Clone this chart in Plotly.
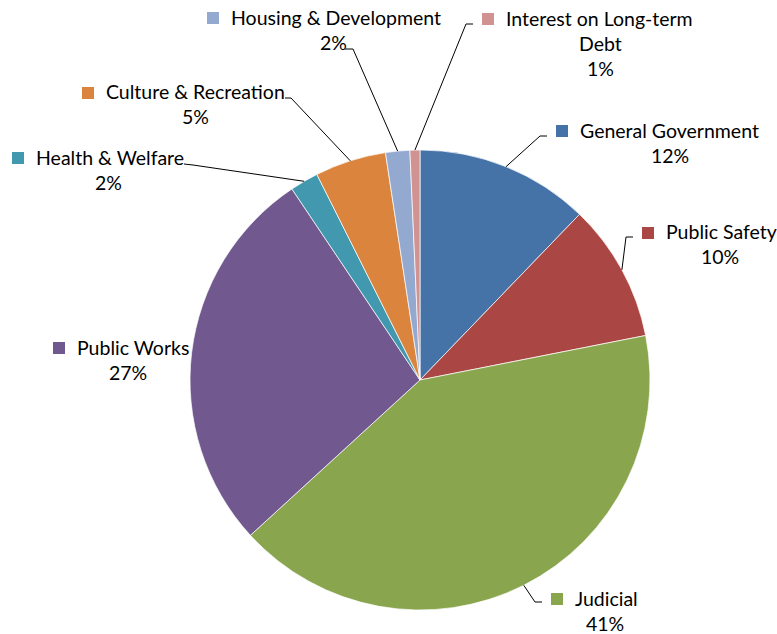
import math
import plotly.graph_objects as go

# Expenditure share by function (percent of total)
categories = [
    "General Government", "Public Safety", "Judicial", "Public Works",
    "Health & Welfare", "Culture & Recreation", "Housing & Development",
    "Interest on Long-term Debt",
]
shares = [12.2, 9.7, 41.3, 27.4, 2.0, 5.0, 1.7, 0.7]
colors = ["#4572A7", "#AA4643", "#89A54E", "#71588F",
          "#4198AF", "#DB843D", "#93A9CF", "#D19392"]

W, H = 777, 634
CX, CY, R = 420, 380, 230          # pie centre / radius in pixels
FONT = "Lato"
FS = 19.5
LINE_H = 25

# label placement: marker left x, first-line centre y, x of centred lines
label_pos = [
    (556, 130, 670), (642, 232, 720), (551, 598, 605), (53, 347, 128),
    (12, 157, 108), (82, 92, 195), (207, 17, 333), (482, 18, 600),
]
# leader line: (label end point, elbow point); None = no leader
leaders = [
    ((547, 136), (540, 136)), ((633, 237), (626, 237)),
    ((542, 602), (535, 602)), None,
    ((184, 164), (193, 165)), ((285, 98), (291, 98)),
    ((345, 49), (353, 49)), ((473, 24), (466, 24)),
]


def px(x):
    return x / W


def py(y):
    return 1 - y / H


def wrap(name, width=22):
    if len(name) <= width:
        return [name]
    cut = name.rfind(" ", 0, width + 1)
    return [name[:cut], name[cut + 1:]]


fig = go.Figure(go.Pie(
    labels=categories, values=shares, sort=False, direction="clockwise",
    rotation=0, marker=dict(colors=colors, line=dict(color="white", width=0.7)),
    textinfo="none", hoverinfo="label+percent", showlegend=False,
    domain=dict(x=[px(CX - R), px(CX + R)], y=[py(CY + R), py(CY - R)]),
))

shapes, annotations = [], []
total = sum(shares)
cum = 0.0
for name, v, col, (mx, ly, cx_txt), ld in zip(categories, shares, colors,
                                               label_pos, leaders):
    mid = (cum + v / 2) / total * 2 * math.pi
    cum += v
    lines = wrap(name)
    # colour key square
    shapes.append(dict(type="rect", xref="paper", yref="paper",
                       x0=px(mx), x1=px(mx + 12), y0=py(ly - 5), y1=py(ly + 7),
                       fillcolor=col, line=dict(width=0)))
    annotations.append(dict(text=lines[0], xref="paper", yref="paper",
                            x=px(mx + 22), y=py(ly), xanchor="left",
                            yanchor="middle", showarrow=False,
                            font=dict(family=FONT, size=FS, color="#000")))
    rest = lines[1:] + [f"{round(v)}%"]
    for i, t in enumerate(rest):
        annotations.append(dict(text=t, xref="paper", yref="paper",
                                x=px(cx_txt), y=py(ly + LINE_H * (i + 1)),
                                xanchor="center", yanchor="middle",
                                showarrow=False,
                                font=dict(family=FONT, size=FS, color="#000")))
    if ld:
        (ex, ey), (bx, by) = ld
        sx = CX + R * math.sin(mid)
        sy = CY - R * math.cos(mid)
        path = f"M {px(ex)},{py(ey)} L {px(bx)},{py(by)} L {px(sx)},{py(sy)}"
        shapes.append(dict(type="path", xref="paper", yref="paper", path=path,
                           line=dict(color="#000", width=1)))

fig.update_layout(
    width=W, height=H, margin=dict(l=0, r=0, t=0, b=0),
    paper_bgcolor="white", plot_bgcolor="white",
    shapes=shapes, annotations=annotations,
)
fig.write_html("out.html")
